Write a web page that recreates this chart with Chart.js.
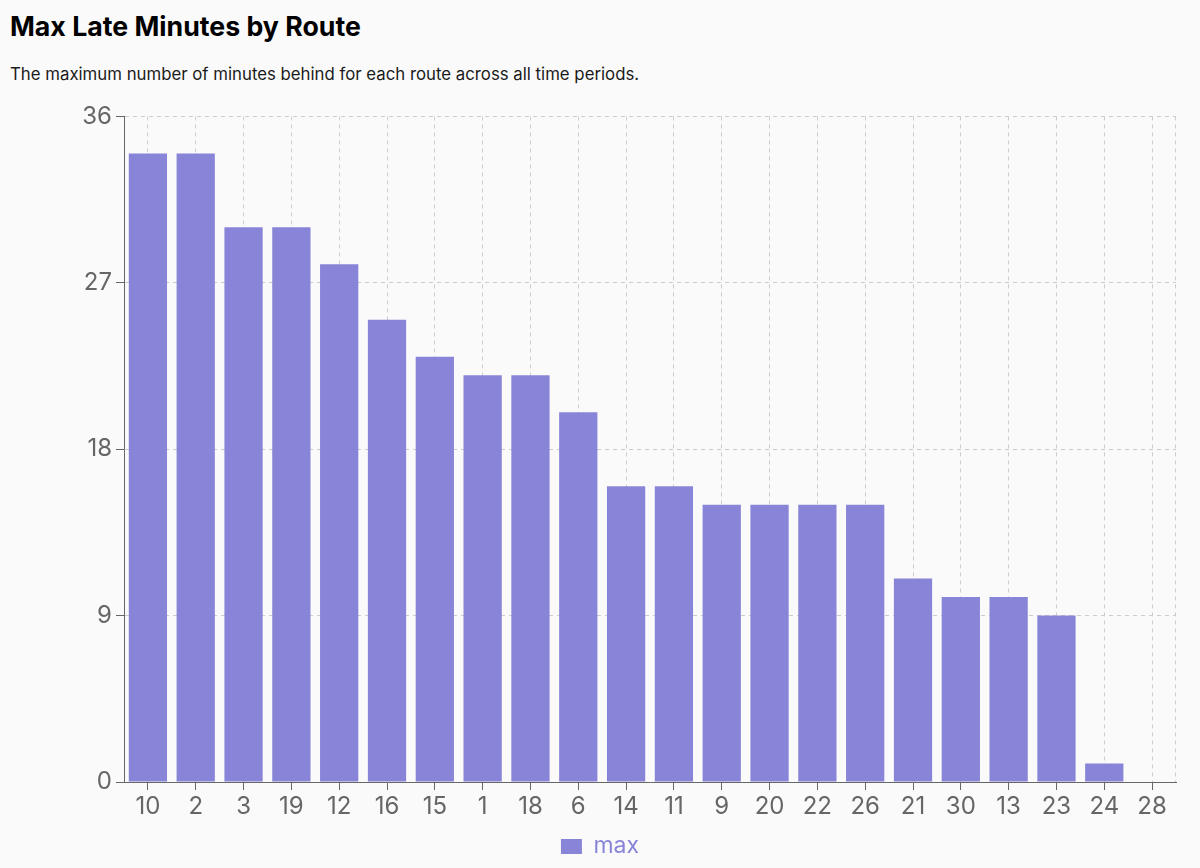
<!DOCTYPE html>
<html>
<head>
<meta charset="utf-8">
<script src="https://cdn.jsdelivr.net/npm/chart.js@4.4.1/dist/chart.umd.min.js"></script>
<style>
  html, body { margin: 0; padding: 0; background: #fafafa; }
  body { width: 1200px; height: 868px; position: relative; overflow: hidden; font-family: Inter, "Noto Sans", sans-serif; }
  h1 { position: absolute; left: 10px; top: 10px; margin: 0; font-size: 26.7px; font-weight: 700; color: #000; line-height: 32px; }
  p.sub { position: absolute; left: 10px; top: 63px; margin: 0; font-size: 16.8px; color: #1a1a1a; line-height: 22px; }
  #wrap { position: absolute; left: 0; top: 98px; width: 1200px; height: 770px; }
</style>
</head>
<body>
<h1>Max Late Minutes by Route</h1>
<p class="sub">The maximum number of minutes behind for each route across all time periods.</p>
<div id="wrap"><canvas id="chart"></canvas></div>
<script>
const routes = ['10', '2', '3', '19', '12', '16', '15', '1', '18', '6', '14', '11', '9', '20', '22', '26', '21', '30', '13', '23', '24', '28'];
const maxLate = [34, 34, 30, 30, 28, 25, 23, 22, 22, 20, 16, 16, 15, 15, 15, 15, 11, 10, 10, 9, 1, 0];
const yTicks = [0, 9, 18, 27, 36];

const barColor = '#8884d8';
const gridColor = '#cccccc';
const axisColor = '#666666';

// dashed line down the right edge of the plot, like the reference grid
const rightEdge = {
  id: 'rightEdge',
  beforeDatasetsDraw(chart) {
    const { ctx, chartArea: a } = chart;
    ctx.save();
    ctx.strokeStyle = gridColor;
    ctx.lineWidth = 1;
    ctx.setLineDash([4, 4]);
    ctx.beginPath();
    ctx.moveTo(a.right - 0.5, a.top);
    ctx.lineTo(a.right - 0.5, a.bottom);
    ctx.stroke();
    ctx.restore();
  }
};

new Chart(document.getElementById('chart'), {
  type: 'bar',
  data: {
    labels: routes,
    datasets: [{ label: 'max', data: maxLate, backgroundColor: barColor, barPercentage: 0.8, categoryPercentage: 1 }]
  },
  options: {
    responsive: true, maintainAspectRatio: false, animation: false,
    layout: { padding: { top: 16, right: 0, left: 0, bottom: 0 } },
    plugins: {
      tooltip: { enabled: false },
      legend: {
        position: 'bottom',
        labels: { color: barColor, boxWidth: 21, boxHeight: 15, padding: 10, font: { family: 'Inter', size: 23 } }
      }
    },
    scales: {
      x: {
        grid: { offset: false, color: gridColor, tickColor: axisColor, tickLength: 8 },
        border: { color: axisColor, width: 1, dash: [4, 4] },
        ticks: { color: axisColor, padding: 2, font: { family: 'Inter', size: 24 } },
        afterFit: s => { s.height = 43; }
      },
      y: {
        min: 0, max: 36,
        afterBuildTicks: s => { s.ticks = yTicks.map(v => ({ value: v })); },
        grid: { color: gridColor, tickColor: axisColor, tickLength: 8 },
        border: { color: axisColor, width: 1, dash: [4, 4] },
        ticks: { color: axisColor, padding: 4, font: { family: 'Inter', size: 24 } },
        afterFit: s => { s.width = 124; }
      },
      // empty spacer on the right so the legend stays centred on the page
      yRight: {
        position: 'right', min: 0, max: 36,
        grid: { display: false }, border: { display: false }, ticks: { display: false },
        afterFit: s => { s.width = 24; }
      }
    }
  },
  plugins: [rightEdge]
});
</script>
</body>
</html>
